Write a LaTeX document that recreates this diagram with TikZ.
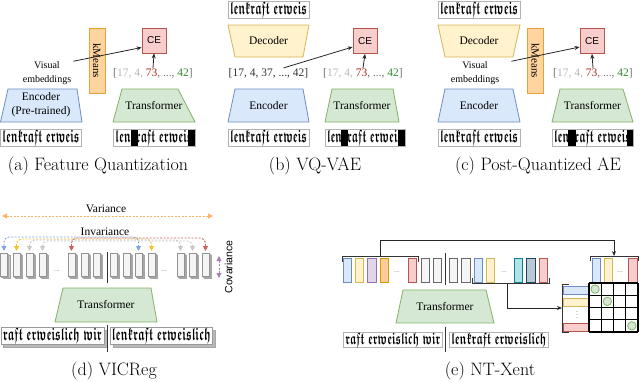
\documentclass[tikz,border=0pt]{standalone}
\usepackage{amsmath,amssymb}
\usepackage{fontspec}
\usepackage{graphicx}
\usetikzlibrary{arrows.meta,calc}
\newfontfamily\tnr{Liberation Serif}
\newfontfamily\hel{Liberation Sans}
\definecolor{encF}{HTML}{DAE8FC}\definecolor{encD}{HTML}{6C8EBF}
\definecolor{decF}{HTML}{FFF2CC}\definecolor{decD}{HTML}{D6B656}
\definecolor{trfF}{HTML}{D5E8D4}\definecolor{trfD}{HTML}{82B366}
\definecolor{ceF}{HTML}{F8CECC}\definecolor{ceD}{HTML}{B85450}
\definecolor{kmF}{HTML}{FFD49E}\definecolor{kmD}{HTML}{E3A23B}
\definecolor{purF}{HTML}{E1D5E7}\definecolor{purD}{HTML}{9673A6}
\definecolor{oraF}{HTML}{FFCC99}\definecolor{oraD}{HTML}{D79B00}
\definecolor{gryF}{HTML}{F5F5F5}\definecolor{gryD}{HTML}{666666}
\definecolor{teaF}{HTML}{B0E3E6}\definecolor{teaD}{HTML}{0E8088}
\definecolor{darF}{HTML}{BAC8D3}\definecolor{darD}{HTML}{23445D}
\definecolor{seqlight}{HTML}{B8B8B8}
\definecolor{seqdark}{HTML}{707070}
\definecolor{seqred}{HTML}{B02418}
\definecolor{seqgreen}{HTML}{2E8B2E}
\definecolor{invB}{HTML}{7EA6E0}
\definecolor{invY}{HTML}{F2C430}
\definecolor{invG}{HTML}{C8C8C8}
\definecolor{invR}{HTML}{D06060}
\definecolor{varO}{HTML}{FFB366}
\definecolor{covP}{HTML}{A680B8}
\newcommand\redseq{{\color{seqdark}[\color{seqlight}17, 4, \color{seqred}73\color{seqdark}, ..., \color{seqgreen}42\color{seqdark}]}}
\newcommand\frk[3]{\resizebox{#1}{#2}{$\boldsymbol{\mathfrak{#3}}$}}
\begin{document}
\begin{tikzpicture}[x=1pt,y=-1pt,
  lbl/.style={font=\tnr\fontsize{11.5}{14}\selectfont, inner sep=0, align=center},
  small/.style={font=\tnr\fontsize{10}{14}\selectfont, inner sep=0, align=center},
  captxt/.style={font=\fontsize{18}{20}\selectfont, inner sep=0},
  cebox/.style={draw=ceD, fill=ceF, line width=0.8pt, minimum width=24pt, minimum height=25pt, font=\hel\fontsize{10}{12}\selectfont, inner sep=0},
  kmbox/.style={draw=kmD, fill=kmF, line width=0.8pt, minimum width=65pt, minimum height=16pt, font=\tnr\fontsize{11}{12}\selectfont, inner sep=0, rotate=-90},
  frakbox/.style={draw=gray!60, fill=white, line width=0.8pt, inner sep=0, minimum height=17pt},
  arr/.style={-{Stealth[length=5pt,width=4pt]}, line width=0.8pt, draw=black!85},
  trap/.style={line width=0.8pt},
  tk/.style={line width=0.8pt},
  inv/.style={line width=0.9pt, dash pattern=on 2pt off 1.5pt, rounded corners=5pt, {Triangle[length=5pt,width=5pt]}-{Triangle[length=5pt,width=5pt]}},
  dotsn/.style={font=\hel\fontsize{7}{8}\selectfont, text=gray, inner sep=0}
]
\useasboundingbox (0,0) rectangle (640,381);

% ================= (a) =================
\filldraw[trap, fill=encF, draw=encD] (8,89) -- (77,89) -- (82,122) -- (0.5,122) -- cycle;
\node[lbl] (enc-a) at (41,105) {Encoder\\(Pre-trained)};
\filldraw[trap, fill=trfF, draw=trfD] (122,89) -- (178,89) -- (195,122) -- (113,122) -- cycle;
\node[lbl] (trf-a) at (154,106) {Transformer};
\node[kmbox] (km-a) at (97,60.5) {kMeans};
\node[cebox] (ce-a) at (154,40.5) {CE};
\node[small] (vis-a) at (47,73) {Visual\\embeddings};
\node[lbl] (seq-a) at (153,73) {\redseq};
\draw[arr] ([xshift=2pt]vis-a.north east) -- ([yshift=-7pt]ce-a.west);
\draw[arr] (seq-a.north) -- (ce-a.south);
\node[frakbox, minimum width=81pt] (fa1) at (41,137.5) {\frk{77pt}{12.5pt}{lenkraft\ erweis}};
\node[frakbox, minimum width=82pt] (fa2) at (154,137.5) {\frk{77pt}{12.5pt}{lenkraft\ erweis}};
\fill[black] (131,129.5) rectangle (137.5,145.5);
\fill[black] (188,129.5) rectangle (195,145.5);
\node[captxt] (cap-a) at (98,166) {(a) Feature Quantization};

% ================= (b) =================
\node[frakbox, minimum width=81pt] (fb0) at (268.5,10) {\frk{77pt}{12.5pt}{lenkraft\ erweis}};
\filldraw[trap, fill=decF, draw=decD] (228,25) -- (309,25) -- (303,57) -- (235,57) -- cycle;
\node[lbl] (dec-b) at (268.5,41) {Decoder};
\node[lbl] (seq-b1) at (268.5,73) {\color{black!80}[17, 4, 37, ..., 42]};
\node[cebox] (ce-b) at (365,41) {CE};
\node[lbl] (seq-b2) at (363,73) {\redseq};
\draw[arr] ([xshift=15pt]seq-b1.north) -- ([yshift=-6pt]ce-b.west);
\draw[arr] (seq-b2.north) -- (ce-b.south);
\filldraw[trap, fill=encF, draw=encD] (235,89) -- (303,89) -- (309,122) -- (228,122) -- cycle;
\node[lbl] (enc-b) at (268.5,106) {Encoder};
\filldraw[trap, fill=trfF, draw=trfD] (332,89) -- (393,89) -- (399,122) -- (325,122) -- cycle;
\node[lbl] (trf-b) at (362,106) {Transformer};
\node[frakbox, minimum width=81pt] (fb1) at (268.5,138) {\frk{77pt}{12.5pt}{lenkraft\ erweis}};
\node[frakbox, minimum width=80pt] (fb2) at (365,138) {\frk{76pt}{12.5pt}{lenkraft\ erweis}};
\fill[black] (341,130) rectangle (347.5,146);
\fill[black] (398,130) rectangle (405,146);
\node[captxt] (cap-b) at (315,166) {(b) VQ-VAE};

% ================= (c) =================
\node[frakbox, minimum width=82pt] (fc0) at (479,10) {\frk{78pt}{12.5pt}{lenkraft\ erweis}};
\filldraw[trap, fill=decF, draw=decD] (438,25) -- (520,25) -- (513,57) -- (445,57) -- cycle;
\node[lbl] (dec-c) at (479,41) {Decoder};
\node[kmbox] (km-c) at (535.5,60.5) {kMeans};
\node[cebox] (ce-c) at (592,41) {CE};
\node[small] (vis-c) at (475,73) {Visual\\embeddings};
\node[lbl] (seq-c) at (593,73) {\redseq};
\draw[arr] ([xshift=12pt]vis-c.north east) -- ([yshift=-6pt]ce-c.west);
\draw[arr] (seq-c.north) -- (ce-c.south);
\filldraw[trap, fill=encF, draw=encD] (445,89) -- (513,89) -- (520,122) -- (438,122) -- cycle;
\node[lbl] (enc-c) at (479,106) {Encoder};
\filldraw[trap, fill=trfF, draw=trfD] (560,89) -- (623,89) -- (633,122) -- (552,122) -- cycle;
\node[lbl] (trf-c) at (592.5,106) {Transformer};
\node[frakbox, minimum width=82pt] (fc1) at (479,137.5) {\frk{78pt}{12.5pt}{lenkraft\ erweis}};
\node[frakbox, minimum width=81pt] (fc2) at (592.5,137.5) {\frk{77pt}{12.5pt}{lenkraft\ erweis}};
\fill[black] (568,129.5) rectangle (576,145.5);
\fill[black] (626.5,129.5) rectangle (633,145.5);
\node[captxt] (cap-c) at (538,166) {(c) Post-Quantized AE};

% ================= (d) =================
\node[lbl] (var) at (106,209) {Variance};
\coordinate (var-l) at (2,216);
\coordinate (var-r) at (213,216);
\draw[line width=0.9pt, draw=varO, dash pattern=on 2pt off 1.5pt, {Triangle[length=5pt,width=5pt]}-{Triangle[length=5pt,width=5pt]}] (var-l) -- (var-r);
\node[lbl] (invl) at (105,232) {Invariance};
\foreach \x [count=\i] in {0.5,13,26,39,68,81,93,110,123,135,148,177,189,202} {
  \filldraw[fill=gray!45, draw=gray!70, line width=0.6pt] (\x+2.4,255.4) rectangle ++(7,23);
  \filldraw[fill=gray!25, draw=gray!70, line width=0.6pt] (\x+1.2,254.2) rectangle ++(7,23);
  \filldraw[fill=gryF, draw=gray!85, line width=0.6pt] (\x,253) rectangle ++(7,23);
  \coordinate (t\i) at (\x+3.5,251);
}
\node[dotsn] (dd1) at (57,271) {...};
\node[dotsn] (dd2) at (164,271) {...};
\draw[line width=1pt, black!80] (107,252) -- (107,283);
\draw[inv, invB] (t1) -- ([yshift=14pt]t1) -- ([yshift=14pt]t10) -- (t10);
\draw[inv, invY] (t2) -- ([yshift=12pt]t2) -- ([yshift=12pt]t11) -- (t11);
\draw[inv, invG] (t3) -- ([yshift=11pt]t3) -- ([yshift=11pt]t12) -- (t12);
\draw[inv, invG] (t4) -- ([yshift=10pt]t4) -- ([yshift=10pt]t13) -- (t13);
\draw[inv, invR] (t5) -- ([yshift=13pt]t5) -- ([yshift=13pt]t14) -- (t14);
\coordinate (cov-t) at (219,256);
\coordinate (cov-b) at (219,278);
\draw[line width=0.9pt, draw=covP, dash pattern=on 2pt off 1.5pt, {Triangle[length=5pt,width=5pt]}-{Triangle[length=5pt,width=5pt]}] (cov-t) -- (cov-b);
\node[font=\hel\fontsize{10.5}{12}\selectfont, inner sep=0, rotate=90] (cov) at (228.5,267) {Covariance};
\filldraw[trap, fill=trfF, draw=trfD] (63,288) -- (151,288) -- (157,322) -- (55,322) -- cycle;
\node[lbl] (trf-d) at (106,305) {Transformer};
\filldraw[fill=gray!55, draw=gray!70, line width=0.6pt] (3,330) rectangle (107,347);
\node[frakbox, draw=gray!80, minimum width=103pt, anchor=north west] (fd1) at (0.5,327) {\frk{99pt}{12.5pt}{raft\ erweislich\ wir}};
\filldraw[fill=gray!55, draw=gray!70, line width=0.6pt] (113,330) rectangle (215,347);
\node[frakbox, draw=gray!80, minimum width=102pt, anchor=north west] (fd2) at (110,327) {\frk{99pt}{12.5pt}{lenkraft\ erweislich}};
\draw[line width=1pt, black!80] (107,325) -- (107,352);
\node[captxt] (cap-d) at (114,371) {(d) VICReg};

% ================= (e) =================
\foreach \x/\f/\d in {343/encF/encD,355/decF/decD,367.5/purF/purD,380/oraF/oraD,408/ceF/ceD,421/gryF/gryD,433/gryF/gryD,449/gryF/gryD,461.5/gryF/gryD,474/encF/encD,486/decF/decD,514/teaF/teaD,526.5/darF/darD,539/ceF/ceD,592/encF/encD,604/decF/decD,628.5/ceF/ceD} {
  \filldraw[tk, fill=\f, draw=\d] (\x,258) rectangle ++(8.5,24);
}
\node[dotsn] (de1) at (397,272) {...};
\node[dotsn] (de2) at (504,272) {...};
\node[dotsn] (de3) at (620,272) {...};
\draw[line width=1pt, black!80] (445,253) -- (445,285);
\draw[line width=1pt, black!80] (342,262) -- (342,256.5) -- (418,256.5) -- (418,262);
\draw[line width=1pt, black!80] (590,261) -- (590,256) -- (638.5,256) -- (638.5,261);
\draw[line width=1pt, black!80] (472,278) -- (472,283.5) -- (549,283.5) -- (549,278);
\coordinate (lb) at (380,256.5);
\coordinate (rb) at (614,256);
\coordinate (bb) at (507,283.5);
\coordinate (rl) at (562,308);
\draw[arr] (lb) -- ++(0,-16.5) -| (rb);
\draw[arr] (bb) |- (rl);
\draw[line width=1pt, black!80] (569,284.5) -- (562,284.5) -- (562,332) -- (569,332);
\filldraw[tk, fill=encF, draw=encD] (563.5,286) rectangle (588,294);
\filldraw[tk, fill=decF, draw=decD] (563.5,298) rectangle (588,306);
\foreach \yy in {311.5,314.5,317.5} { \fill[gray!70] (577,\yy) circle (0.6pt); }
\filldraw[tk, fill=ceF, draw=ceD] (563.5,323) rectangle (588,331);
\foreach \i in {0,...,4} {
  \draw[line width=1.2pt] (589+12.25*\i,283) -- (589+12.25*\i,332);
  \draw[line width=1.2pt] (589,283+12.25*\i) -- (638,283+12.25*\i);
}
\foreach \i in {0,1,3} {
  \filldraw[tk, fill=trfF, draw=trfD] (595.1+12.25*\i,289.1+12.25*\i) circle (4.2pt);
}
\filldraw[trap, fill=trfF, draw=trfD] (403,290) -- (486,290) -- (494,323) -- (396,323) -- cycle;
\node[lbl] (trf-e) at (445,307) {Transformer};
\node[frakbox, minimum width=99pt, minimum height=15pt, anchor=north west] (fe1) at (343,332) {\frk{95pt}{11.5pt}{raft\ erweislich\ wir}};
\node[frakbox, minimum width=99pt, minimum height=15pt, anchor=north west] (fe2) at (449,332) {\frk{95pt}{11.5pt}{lenkraft\ erweislich}};
\draw[line width=1pt, black!80] (445,327) -- (445,352);
\node[captxt] (cap-e) at (490,371) {(e) NT-Xent};
\end{tikzpicture}
\end{document}
